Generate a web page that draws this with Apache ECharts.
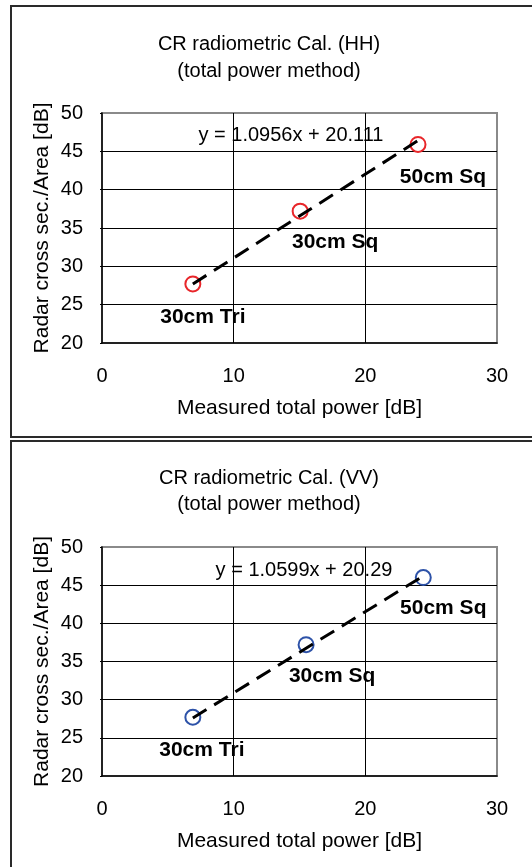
<!DOCTYPE html>
<html>
<head>
<meta charset="utf-8">
<script src="https://cdn.jsdelivr.net/npm/echarts@6/dist/echarts.min.js"></script>
<style>
    html, body { margin: 0; padding: 0; background: #fff; }
    #chart { width: 532px; height: 867px; }
</style>
</head>
<body>
<div id="chart"></div>
<script>
const targetNames = ['30cm Tri', '30cm Sq', '50cm Sq']
const hhPower = [6.9, 15.05, 24.0]
const hhRcs = [27.7, 37.2, 45.9]
const vvPower = [6.9, 15.5, 24.4]
const vvRcs = [27.7, 37.2, 46.0]
const hhTrendX = [6.9, 24.0]
const hhTrendY = [27.7, 46.4]
const vvTrendX = [6.9, 24.4]
const vvTrendY = [27.6, 46.2]
const hhEquation = 'y = 1.0956x + 20.111'
const vvEquation = 'y = 1.0599x + 20.29'
const titles = ['CR radiometric Cal. (HH)\n(total power method)', 'CR radiometric Cal. (VV)\n(total power method)']
const xTicks = { min: 0, max: 30, interval: 10 }
const yTicks = { min: 20, max: 50, interval: 5 }
const xName = 'Measured total power [dB]'
const yName = 'Radar cross sec./Area [dB]'

const FONT = '"Liberation Sans", Arial, sans-serif'

const zip = (xs, ys) => xs.map((x, i) => [x, ys[i]])

const makeAxes = (gridIndex) => {
    const xAxis = {
        type: 'value', gridIndex, ...xTicks,
        name: xName, nameLocation: 'middle', nameGap: 55, nameMoveOverlap: false,
        nameTextStyle: { color: '#000', fontSize: 21, fontFamily: FONT },
        axisLine: { show: true, lineStyle: { color: '#000', width: 1.5 } },
        axisTick: { show: false },
        axisLabel: { color: '#000', fontSize: 20, fontFamily: FONT, margin: 23 },
        splitLine: { show: true, showMinLine: false, showMaxLine: false, lineStyle: { color: '#000', width: 1 } }
    }
    const yAxis = {
        type: 'value', gridIndex, ...yTicks,
        name: yName, nameLocation: 'middle', nameGap: 49, nameMoveOverlap: false,
        nameTextStyle: { color: '#000', fontSize: 21, fontFamily: FONT },
        axisLine: { show: true, lineStyle: { color: '#000', width: 1.5 } },
        axisTick: { show: true, inside: false, length: 2, lineStyle: { color: '#000' } },
        axisLabel: { color: '#000', fontSize: 20, fontFamily: FONT, margin: 19 },
        splitLine: { show: true, showMinLine: false, showMaxLine: false, lineStyle: { color: '#000', width: 1 } }
    }
    return { xAxis, yAxis }
}

const makeSeries = (idx, xs, ys, trendX, trendY, color, offsets) => [
    {
        type: 'scatter', xAxisIndex: idx, yAxisIndex: idx,
        symbol: 'circle', symbolSize: 15,
        itemStyle: { color: 'rgba(255,255,255,0)', borderColor: color, borderWidth: 2, opacity: 1 },
        data: xs.map((x, i) => ({
            value: [x, ys[i]],
            label: {
                show: true, position: 'inside', offset: offsets[i],
                formatter: targetNames[i],
                color: '#000', textBorderWidth: 0,
                fontSize: 21, fontWeight: 'bold', fontFamily: FONT
            }
        })),
        z: 3
    },
    {
        type: 'line', xAxisIndex: idx, yAxisIndex: idx,
        data: zip(trendX, trendY),
        symbol: 'none',
        lineStyle: { color: '#000', width: 3, type: [16, 9] },
        z: 4
    }
]

const a0 = makeAxes(0)
const a1 = makeAxes(1)

const option = {
    animation: false,
    backgroundColor: '#fff',
    title: [
        { text: titles[0], left: 269, top: 31, textAlign: 'center', padding: 0,
          textStyle: { color: '#000', fontSize: 20, fontWeight: 'normal', fontFamily: FONT, lineHeight: 27 } },
        { text: titles[1], left: 269, top: 465, textAlign: 'center', padding: 0,
          textStyle: { color: '#000', fontSize: 20, fontWeight: 'normal', fontFamily: FONT, lineHeight: 26 } }
    ],
    grid: [
        { left: 102, top: 113, width: 395, height: 230, show: true, borderColor: '#8a8a8a', borderWidth: 2 },
        { left: 102, top: 547, width: 395, height: 229, show: true, borderColor: '#8a8a8a', borderWidth: 2 }
    ],
    xAxis: [a0.xAxis, a1.xAxis],
    yAxis: [a0.yAxis, a1.yAxis],
    series: [
        ...makeSeries(0, hhPower, hhRcs, hhTrendX, hhTrendY, '#e8262a', [[10, 33], [35, 31], [25, 33]]),
        ...makeSeries(1, vvPower, vvRcs, vvTrendX, vvTrendY, '#2d52a8', [[9, 33], [26, 31], [20, 31]])
    ],
    graphic: [
        { type: 'rect', shape: { x: 11, y: 6, width: 540, height: 431 }, style: { fill: 'none', stroke: '#2a2a2a', lineWidth: 2 } },
        { type: 'rect', shape: { x: 11, y: 441, width: 540, height: 450 }, style: { fill: 'none', stroke: '#2a2a2a', lineWidth: 2 } },
        { type: 'text', x: 291, y: 135, style: { text: hhEquation, align: 'center', verticalAlign: 'middle', fill: '#000', font: '20px ' + FONT }, z: 5 },
        { type: 'text', x: 304, y: 570, style: { text: vvEquation, align: 'center', verticalAlign: 'middle', fill: '#000', font: '20px ' + FONT }, z: 5 }
    ]
}

const chart = echarts.init(document.getElementById('chart'))
chart.setOption(option)
window.addEventListener('resize', () => chart.resize())
</script>
</body>
</html>
